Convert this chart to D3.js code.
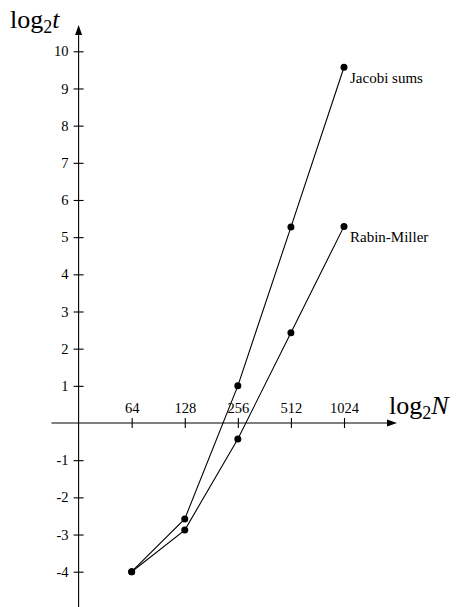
<!DOCTYPE html>
<html>
<head>
<meta charset="utf-8">
<script src="https://cdn.jsdelivr.net/npm/d3@7"></script>
<style>
  body { margin: 0; background: #fff; }
  svg { display: block; }
  text { font-family: "Liberation Serif", "DejaVu Serif", serif; fill: #000; }
</style>
</head>
<body>
<svg width="459" height="607"></svg>
<script>
// log2 N categories (position 1..5 on the x axis)
var sizes = ["64", "128", "256", "512", "1024"];
var jacobi = [-4, -2.58, 1.0, 5.27, 9.57];
var rabinMiller = [-4, -2.88, -0.43, 2.43, 5.29];
var seriesNames = ["Jacobi sums", "Rabin-Miller"];
var yTicks = [-4, -3, -2, -1, 1, 2, 3, 4, 5, 6, 7, 8, 9, 10];

var svg = d3.select("svg");

// x: position index, 0 is the y axis
var xScale = d3.scaleLinear()
    .domain([0, 5])
    .range([78.6, 344]);

var yScale = d3.scaleLinear()
    .domain([-4, 10])
    .range([571.7, 51.3]);

var x0 = xScale(0), y0 = yScale(0);

// axis lines with arrows
svg.append("line")
    .attr("x1", 51.5).attr("x2", 390)
    .attr("y1", y0).attr("y2", y0)
    .attr("stroke", "#000").attr("stroke-width", 1.1);
svg.append("path")
    .attr("d", "M397," + y0 + "L387," + (y0 - 3.5) + "L387," + (y0 + 3.5) + "Z")
    .attr("fill", "#000");

svg.append("line")
    .attr("x1", x0).attr("x2", x0)
    .attr("y1", 607).attr("y2", 32)
    .attr("stroke", "#000").attr("stroke-width", 1.1);
svg.append("path")
    .attr("d", "M" + x0 + ",25L" + (x0 - 3.5) + ",35L" + (x0 + 3.5) + ",35Z")
    .attr("fill", "#000");

// y axis ticks
var yAxis = d3.axisLeft(yScale)
    .tickValues(yTicks)
    .tickFormat(function (d) { return d < 0 ? "-" + (-d) : "" + d; })
    .tickSize(5)
    .tickPadding(5);

var gy = svg.append("g")
    .attr("transform", "translate(" + x0 + ",0)")
    .call(yAxis);
gy.select(".domain").remove();
gy.selectAll(".tick line").attr("x1", 5).attr("x2", -5).attr("stroke-width", 1.1);
gy.selectAll(".tick text")
    .attr("x", -10)
    .style("font-size", "14.5px")
    .style("font-family", "'Liberation Serif', serif");

// x axis ticks, labels above the axis
var xAxis = d3.axisBottom(xScale)
    .tickValues(d3.range(1, sizes.length + 1))
    .tickFormat(function (d) { return sizes[d - 1]; })
    .tickSize(5);

var gx = svg.append("g")
    .attr("transform", "translate(0," + y0 + ")")
    .call(xAxis);
gx.select(".domain").remove();
gx.selectAll(".tick line").attr("y1", -5).attr("y2", 5).attr("stroke-width", 1.1);
gx.selectAll(".tick text")
    .attr("y", -10)
    .attr("dy", null)
    .style("font-size", "14.5px")
    .style("font-family", "'Liberation Serif', serif");

// series
var series = [jacobi, rabinMiller];

var line = d3.line()
    .x(function (d, i) { return xScale(i + 1); })
    .y(function (d) { return yScale(d); });

series.forEach(function (vals, s) {
    svg.append("path")
        .datum(vals)
        .attr("d", line)
        .attr("fill", "none")
        .attr("stroke", "#000")
        .attr("stroke-width", 1.1);

    svg.selectAll("circle.s" + s)
        .data(vals)
        .join("circle")
        .attr("class", "s" + s)
        .attr("cx", function (d, i) { return xScale(i + 1); })
        .attr("cy", function (d) { return yScale(d); })
        .attr("r", 3.5)
        .attr("fill", "#000");

    svg.append("text")
        .attr("x", xScale(vals.length) + 6)
        .attr("y", yScale(vals[vals.length - 1]) + 16)
        .style("font-size", "15px")
        .text(seriesNames[s]);
});

// axis titles: log2 t and log2 N
function axisTitle(x, y, v) {
    var t = svg.append("text")
        .attr("x", x)
        .attr("y", y)
        .style("font-size", "26px");
    t.append("tspan").text("log");
    t.append("tspan").attr("dy", 5).style("font-size", "18px").text("2");
    t.append("tspan").attr("dy", -5).style("font-style", "italic").text(v);
}
axisTitle(10, 28, "t");
axisTitle(389, 414, "N");
</script>
</body>
</html>
